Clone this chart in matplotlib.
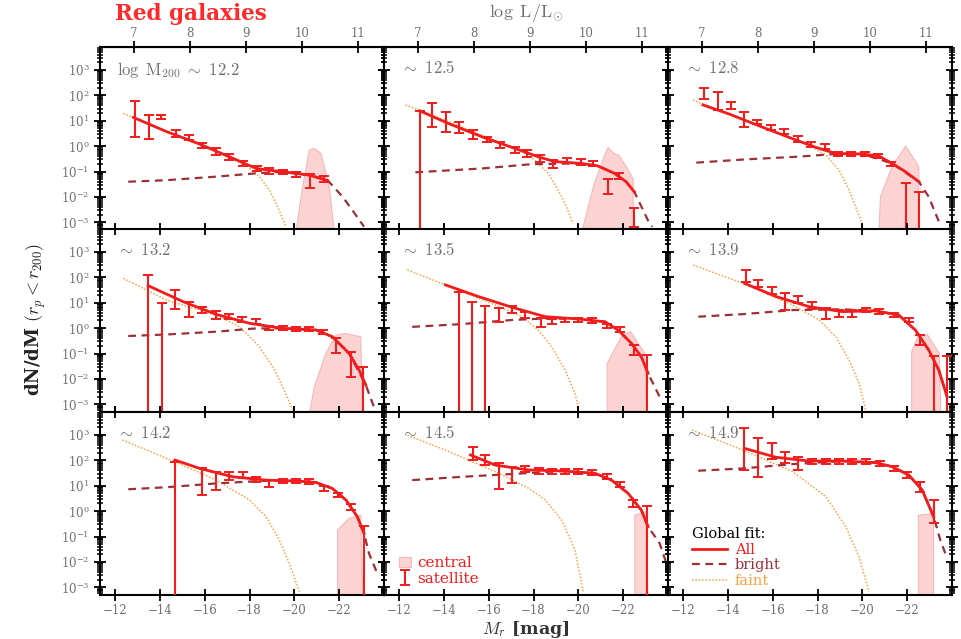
import numpy as np
import matplotlib.pyplot as plt
from matplotlib.ticker import NullFormatter, FixedLocator

plt.rcParams['font.family'] = 'DejaVu Serif'
plt.rcParams['mathtext.fontset'] = 'cm'

# halo mass bins (log M200)
halo_mass = ['12.2', '12.5', '12.8', '13.2', '13.5', '13.9', '14.2', '14.5', '14.9']

# satellite luminosity function: magnitude, log value, log lower / upper end of the error bar
sat_mag = [
    [-12.89, -13.52, -14.07, -14.70, -15.30, -15.86, -16.52, -17.08, -17.70, -18.33, -18.89, -19.48, -20.07, -20.70, -21.33],
    [-12.92, -13.47, -14.10, -14.69, -15.28, -15.92, -16.51, -17.18, -17.70, -18.30, -18.87, -19.50, -20.10, -20.65, -21.33, -21.80, -22.50],
    [-12.92, -13.56, -14.15, -14.71, -15.30, -15.93, -16.52, -17.11, -17.70, -18.32, -18.92, -19.51, -20.10, -20.71, -21.30, -21.97, -22.52],
    [-13.48, -14.10, -14.67, -15.30, -15.89, -16.50, -17.08, -17.67, -18.30, -18.86, -19.48, -20.07, -20.67, -21.26, -21.85, -22.52, -23.07],
    [-14.67, -15.27, -15.84, -16.44, -17.04, -17.63, -18.33, -18.81, -19.41, -20.00, -20.59, -21.29, -21.88, -22.49, -23.08],
    [-14.79, -15.33, -15.97, -16.56, -17.15, -17.75, -18.37, -18.96, -19.53, -20.15, -20.74, -21.41, -22.07, -22.59, -23.19, -23.78],
    [-14.67, -15.89, -16.50, -17.08, -17.70, -18.30, -18.89, -19.48, -20.07, -20.67, -21.33, -21.93, -22.52, -23.11],
    [-15.30, -15.85, -16.44, -17.04, -17.63, -18.26, -18.81, -19.41, -20.00, -20.59, -21.29, -21.88, -22.44, -23.08],
    [-14.74, -15.33, -15.99, -16.55, -17.14, -17.74, -18.37, -18.96, -19.55, -20.15, -20.81, -21.41, -22.00, -22.59, -23.18],
]
sat_logn = [
    [1.09, 0.79, 1.16, 0.50, 0.33, 0.02, -0.22, -0.42, -0.68, -0.88, -0.97, -1.01, -1.10, -1.40, -1.30],
    [1.30, 1.22, 0.96, 0.74, 0.47, 0.28, 0.04, -0.16, -0.29, -0.48, -0.71, -0.58, -0.61, -0.68, -1.60, -1.20, -2.78],
    [2.08, 1.88, 1.62, 1.07, 0.96, 0.74, 0.57, 0.28, 0.08, 0.00, -0.31, -0.31, -0.31, -0.39, -0.71, -1.60, -1.90],
    [1.60, 0.85, 1.10, 0.78, 0.71, 0.51, 0.45, 0.34, 0.25, 0.01, -0.01, -0.04, -0.05, -0.14, -0.73, -1.13, -1.62],
    [1.20, 0.90, 0.75, 0.51, 0.74, 0.51, 0.21, 0.25, 0.32, 0.32, 0.29, 0.08, -0.05, -0.86, -1.20],
    [2.09, 1.76, 1.50, 1.17, 1.13, 0.91, 0.58, 0.58, 0.58, 0.71, 0.65, 0.51, 0.32, -0.47, -1.20, -1.20],
    [1.90, 1.22, 1.22, 1.35, 1.42, 1.25, 1.09, 1.18, 1.18, 1.16, 0.89, 0.63, 0.17, -0.68],
    [2.27, 2.01, 1.42, 1.46, 1.66, 1.58, 1.55, 1.55, 1.55, 1.51, 1.35, 1.03, 0.30, 0.00],
    [2.40, 2.08, 2.27, 2.08, 1.94, 1.94, 1.97, 1.97, 1.94, 1.94, 1.88, 1.68, 1.42, 0.96, 0.04],
]
sat_lo = [
    [0.37, 0.30, 1.08, 0.37, 0.24, -0.09, -0.35, -0.53, -0.80, -0.99, -1.08, -1.10, -1.20, -1.66, -1.42],
    [-9, 0.74, 0.57, 0.50, 0.30, 0.18, -0.09, -0.29, -0.42, -0.61, -0.88, -0.68, -0.74, -0.78, -1.89, -1.30, -3.20],
    [1.84, 1.42, 1.48, 0.74, 0.86, 0.65, 0.47, 0.18, -0.02, -0.10, -0.38, -0.38, -0.38, -0.46, -0.80, -9, -9],
    [-9, -9, 0.74, 0.45, 0.58, 0.34, 0.36, 0.25, 0.16, -0.07, -0.09, -0.12, -0.13, -0.22, -0.99, -1.91, -9],
    [-9, -9, -9, 0.25, 0.61, 0.38, 0.04, 0.16, 0.23, 0.23, 0.20, -0.01, -0.14, -1.06, -9],
    [1.83, 1.63, 1.36, 0.71, 1.00, 0.74, 0.37, 0.45, 0.45, 0.62, 0.56, 0.42, 0.23, -0.66, -9, -9],
    [-9, 0.63, 0.83, 1.22, 1.29, 1.16, 0.94, 1.09, 1.09, 1.07, 0.80, 0.54, 0.04, -9],
    [2.01, 1.81, 0.89, 1.10, 1.53, 1.45, 1.45, 1.45, 1.45, 1.41, 1.25, 0.93, 0.17, -9],
    [1.62, 1.35, 2.04, 1.88, 1.62, 1.84, 1.87, 1.87, 1.84, 1.84, 1.78, 1.58, 1.32, 0.76, -0.48],
]
sat_hi = [
    [1.79, 1.22, 1.24, 0.63, 0.43, 0.13, -0.09, -0.32, -0.57, -0.77, -0.87, -0.92, -1.01, -1.10, -1.18],
    [1.39, 1.68, 1.35, 0.96, 0.63, 0.37, 0.17, -0.03, -0.16, -0.35, -0.55, -0.48, -0.51, -0.58, -1.31, -1.07, -2.45],
    [2.27, 2.14, 1.75, 1.35, 1.03, 0.83, 0.67, 0.38, 0.18, 0.10, -0.24, -0.24, -0.24, -0.32, -0.62, -1.47, -1.80],
    [2.09, 0.97, 1.50, 1.04, 0.84, 0.68, 0.55, 0.44, 0.34, 0.09, 0.07, 0.04, 0.03, -0.06, -0.40, -0.93, -1.52],
    [1.43, 1.04, 0.87, 0.78, 0.87, 0.64, 0.38, 0.34, 0.41, 0.41, 0.38, 0.17, 0.04, -0.66, -1.06],
    [2.29, 1.89, 1.63, 1.37, 1.26, 1.04, 0.78, 0.71, 0.71, 0.80, 0.74, 0.60, 0.41, -0.27, -1.10, -1.10],
    [1.94, 1.68, 1.55, 1.55, 1.55, 1.35, 1.22, 1.27, 1.27, 1.25, 0.98, 0.72, 0.30, -0.59],
    [2.54, 2.21, 1.88, 1.75, 1.79, 1.71, 1.65, 1.65, 1.65, 1.61, 1.45, 1.13, 0.43, 0.20],
    [3.26, 2.86, 2.67, 2.34, 2.14, 2.04, 2.07, 2.07, 2.04, 2.04, 1.98, 1.78, 1.52, 1.16, 0.43],
]

# global fit: total, bright and faint components (log values)
all_mag = [
    [-12.82, -14.30, -15.78, -17.26, -18.30, -19.48, -20.67, -21.48],
    [-12.92, -14.21, -15.69, -17.17, -18.21, -18.95, -20.13, -20.87, -21.61, -22.13, -22.50],
    [-12.89, -14.07, -15.56, -17.04, -17.93, -18.81, -20.00, -20.74, -21.33, -21.93, -22.52],
    [-13.48, -15.04, -16.52, -18.00, -19.48, -20.96, -21.70, -22.44, -22.89, -23.19],
    [-14.07, -15.55, -17.04, -18.52, -20.00, -21.19, -21.78, -22.37, -22.81, -23.11],
    [-14.75, -16.16, -17.64, -19.12, -20.60, -21.63, -22.37, -22.96, -23.41, -23.78],
    [-14.67, -15.78, -17.26, -18.74, -20.22, -20.96, -21.70, -22.30, -22.81, -23.11],
    [-15.19, -16.30, -17.78, -19.26, -20.74, -21.48, -22.22, -22.81, -23.11],
    [-14.74, -16.14, -17.62, -19.10, -20.58, -21.33, -22.07, -22.67, -23.18],
]
all_logn = [
    [1.13, 0.57, 0.08, -0.48, -0.88, -1.01, -1.14, -1.36],
    [1.39, 0.89, 0.37, -0.09, -0.42, -0.61, -0.68, -0.78, -1.07, -1.40, -1.80],
    [1.62, 1.26, 0.74, 0.24, -0.05, -0.29, -0.31, -0.39, -0.68, -1.01, -1.40],
    [1.67, 1.04, 0.54, 0.19, -0.01, -0.07, -0.34, -0.99, -1.65, -2.24],
    [1.70, 1.24, 0.82, 0.45, 0.36, 0.25, -0.08, -0.60, -1.13, -1.78],
    [1.76, 1.24, 0.84, 0.65, 0.68, 0.51, -0.08, -0.86, -1.65, -2.70],
    [2.01, 1.68, 1.35, 1.22, 1.18, 1.13, 0.89, 0.44, -0.22, -0.88],
    [2.21, 1.81, 1.62, 1.58, 1.49, 1.22, 0.70, 0.04, -0.61],
    [2.47, 2.12, 1.97, 1.97, 1.91, 1.75, 1.42, 0.83, -0.22],
]
bright_mag = [
    [-12.59, -14.30, -16.52, -18.30, -19.48, -20.67, -21.48, -22.15, -22.59, -23.11],
    [-12.73, -15.69, -17.91, -20.13, -20.87, -21.61, -22.13, -22.50, -23.10, -23.30],
    [-12.59, -14.81, -17.04, -18.81, -20.00, -21.33, -22.52, -22.96, -23.48],
    [-12.59, -14.30, -16.52, -18.30, -19.48, -20.96, -21.70, -22.44, -23.19, -23.63],
    [-12.59, -14.81, -17.04, -18.52, -20.00, -21.19, -21.78, -22.37, -22.81, -23.11, -23.70],
    [-12.68, -14.68, -16.90, -19.12, -20.60, -21.63, -22.37, -22.96, -23.41, -23.78],
    [-12.59, -14.30, -16.52, -18.74, -20.22, -20.96, -21.70, -22.30, -22.81, -23.11, -23.33, -23.70],
    [-12.59, -14.81, -17.04, -19.26, -20.74, -21.48, -22.22, -22.81, -23.11, -23.63, -23.93],
    [-12.68, -14.68, -16.90, -19.10, -20.58, -21.33, -22.07, -22.67, -23.18, -23.48, -23.70],
]
bright_logn = [
    [-1.40, -1.34, -1.20, -1.07, -1.01, -1.14, -1.34, -1.99, -2.52, -3.17],
    [-1.03, -0.88, -0.71, -0.68, -0.78, -1.07, -1.40, -1.80, -2.91, -3.17],
    [-0.65, -0.52, -0.42, -0.31, -0.31, -0.68, -1.40, -1.99, -3.11],
    [-0.31, -0.25, -0.14, -0.01, -0.01, -0.07, -0.34, -0.99, -2.24, -3.29],
    [0.05, 0.16, 0.32, 0.38, 0.36, 0.25, -0.08, -0.60, -1.13, -1.78, -2.83],
    [0.45, 0.55, 0.71, 0.74, 0.68, 0.51, -0.08, -0.86, -1.65, -2.70],
    [0.86, 0.94, 1.09, 1.20, 1.18, 1.13, 0.89, 0.44, -0.22, -0.88, -1.66, -2.45],
    [1.22, 1.35, 1.46, 1.58, 1.49, 1.22, 0.70, 0.04, -0.61, -1.27, -2.06],
    [1.59, 1.68, 1.85, 1.97, 1.91, 1.75, 1.42, 0.83, -0.22, -1.14, -1.66],
]
faint_mag = [
    [-12.37, -14.30, -16.52, -17.85, -18.44, -18.89, -19.26, -19.63],
    [-12.29, -13.47, -14.95, -16.43, -17.47, -18.06, -18.65, -19.10, -19.47, -19.76],
    [-12.44, -14.07, -15.56, -17.04, -17.78, -18.37, -18.96, -19.41, -19.70, -20.00],
    [-12.37, -14.30, -16.52, -17.56, -18.44, -19.04, -19.48, -19.93],
    [-12.37, -14.07, -16.29, -17.48, -18.22, -18.81, -19.41, -19.85, -20.00],
    [-12.46, -14.68, -16.90, -18.08, -18.82, -19.41, -19.86, -20.15],
    [-12.33, -14.67, -16.52, -18.00, -18.74, -19.33, -19.78, -20.22],
    [-12.37, -14.07, -16.30, -17.78, -18.52, -19.26, -19.85, -20.22],
    [-12.40, -14.68, -16.90, -18.37, -19.26, -19.85, -20.30],
]
faint_logn = [
    [1.29, 0.57, -0.22, -0.75, -1.20, -1.73, -2.39, -3.17],
    [1.62, 1.22, 0.70, 0.17, -0.22, -0.55, -1.07, -1.73, -2.39, -3.04],
    [1.81, 1.26, 0.74, 0.24, -0.05, -0.35, -0.94, -1.73, -2.39, -3.04],
    [1.96, 1.10, 0.51, 0.05, -0.73, -1.52, -2.31, -3.22],
    [2.29, 1.70, 0.91, 0.45, -0.08, -0.73, -1.65, -2.57, -3.10],
    [2.48, 1.76, 0.91, 0.32, -0.34, -1.26, -2.18, -3.23],
    [2.80, 1.94, 1.22, 0.44, -0.22, -1.14, -2.06, -3.17],
    [2.99, 2.40, 1.55, 0.90, 0.44, -0.35, -1.53, -3.17],
    [3.19, 2.40, 1.55, 0.57, -0.61, -1.79, -3.17],
]

# central galaxies: outline of the shaded region
cen_mag = [
    [-20.07, -20.37, -20.67, -20.89, -21.19, -21.56, -21.78],
    [-20.15, -20.70, -21.20, -21.33, -21.60, -21.80, -22.20, -22.45, -22.45],
    [-20.74, -20.81, -21.33, -21.93, -22.52, -22.52],
    [-20.67, -20.89, -21.41, -21.85, -22.30, -22.96, -23.05],
    [-21.29, -21.29, -21.96, -22.33, -22.96, -23.05],
    [-22.20, -22.20, -22.47, -22.91, -23.43, -23.50],
    [-21.93, -21.93, -22.44, -22.96, -23.05],
    [-22.52, -22.52, -23.04, -23.10],
    [-22.50, -22.50, -23.18, -23.18],
]
cen_logn = [
    [-3.4, -1.60, -0.15, -0.09, -0.29, -1.60, -3.4],
    [-3.4, -1.50, -0.30, -0.05, -0.30, -0.35, -0.90, -1.30, -3.4],
    [-3.4, -1.99, -0.81, 0.00, -0.81, -3.4],
    [-3.4, -2.31, -0.99, -0.27, -0.21, -0.34, -3.4],
    [-3.4, -1.39, -0.27, -0.14, -0.99, -3.4],
    [-3.4, -0.93, -0.34, -0.27, -0.99, -3.4],
    [-3.4, -0.75, -0.29, -0.16, -3.4],
    [-3.4, -0.16, -0.02, -3.4],
    [-3.4, -0.16, -0.09, -3.4],
]

red = '#f21c1c'
dark = '#9c3038'
orange = '#ffa040'
pink = '#fbd3d3'
grey = '#707070'

major_y = [1e-3, 1e-2, 1e-1, 1e0, 1e1, 1e2, 1e3]
minor_y = [m * 10.0 ** e for e in range(-4, 4) for m in range(2, 10)
           if 10 ** -3.3 < m * 10.0 ** e < 10 ** 3.9]

fig = plt.figure(figsize=(9.62, 6.39), dpi=100)
lefts = [100, 384, 668]
tops = [47, 229, 412]

for i in range(9):
    r, c = divmod(i, 3)
    ax = fig.add_axes([lefts[c] / 962, 1 - (tops[r] + 183) / 639, 284 / 962, 183 / 639])
    ax.set_yscale('log')

    poly = ax.fill(cen_mag[i], 10.0 ** np.array(cen_logn[i]), facecolor=pink,
                   edgecolor='#f6b8b8', lw=0.8, zorder=1)[0]
    lf, = ax.plot(faint_mag[i], 10.0 ** np.array(faint_logn[i]), ls=(0, (1, 1.2)),
                  color=orange, lw=1.1, zorder=2)
    lb, = ax.plot(bright_mag[i], 10.0 ** np.array(bright_logn[i]), ls=(0, (3.5, 2.5)),
                  color=dark, lw=1.6, zorder=3)
    la, = ax.plot(all_mag[i], 10.0 ** np.array(all_logn[i]), color=red, lw=2.0, zorder=4)

    y = 10.0 ** np.array(sat_logn[i])
    lo = 10.0 ** np.array(sat_lo[i])
    hi = 10.0 ** np.array(sat_hi[i])
    eb = ax.errorbar(sat_mag[i], y, yerr=[y - lo, hi - y], fmt='none', ecolor=red,
                     elinewidth=1.5, capsize=3.5, capthick=1.4, zorder=5)

    ax.set_xlim(-11.33, -24.0)
    ax.set_ylim(10 ** -3.3, 10 ** 3.9)

    ax.xaxis.set_major_locator(FixedLocator([-12, -14, -16, -18, -20, -22]))
    ax.yaxis.set_major_locator(FixedLocator(major_y))
    ax.yaxis.set_minor_locator(FixedLocator(minor_y))
    ax.yaxis.set_minor_formatter(NullFormatter())
    ax.tick_params(which='both', direction='inout', top=(r != 0), right=True,
                   labelsize=8.5, labelcolor=grey)
    ax.tick_params(which='major', length=8, width=1.3)
    ax.tick_params(which='minor', length=5, width=1.1)
    ax.tick_params(axis='x', pad=2.5)
    for s in ax.spines.values():
        s.set_linewidth(1.5)

    if c != 0:
        ax.tick_params(labelleft=False)
    if r != 2:
        ax.tick_params(labelbottom=False)

    if i == 0:
        label = r'$\log\ \mathrm{M}_{200}\ \sim\ 12.2$'
    else:
        label = r'$\sim\ ' + halo_mass[i] + '$'
    ax.text(0.06, 0.93, label, transform=ax.transAxes, color=grey, fontsize=12,
            va='top', ha='left')

    if r == 0:
        sec = ax.secondary_xaxis('top', functions=(lambda m: (4.66 - m) / 2.5,
                                                   lambda l: 4.66 - 2.5 * l))
        sec.set_xticks([7, 8, 9, 10, 11])
        sec.set_xticklabels(['7', '8', '9', '10', '11'])
        sec.tick_params(direction='inout', length=8, width=1.3, labelsize=8.5,
                        labelcolor=grey, pad=1)

    if i == 7:
        ax.legend([poly, eb], ['central', 'satellite'], loc='lower left',
                  bbox_to_anchor=(0.02, 0.0), frameon=False, fontsize=11,
                  labelcolor=red, handlelength=0.8, handletextpad=0.4,
                  borderaxespad=0.2, labelspacing=0.1)
    if i == 8:
        ax.legend([la, lb, lf], ['All', 'bright', 'faint'], loc='lower left',
                  bbox_to_anchor=(0.06, 0.0), frameon=False, fontsize=10.5,
                  labelcolor='linecolor', title='Global fit:', title_fontsize=10.5,
                  alignment='left', handlelength=2.4, handletextpad=0.5,
                  borderaxespad=0.2, labelspacing=0.1, borderpad=0.3)

fig.text(115 / 962, 1 - 14 / 639, 'Red galaxies', color='#ff2a2a', fontsize=15.5,
         fontweight='bold', va='center', ha='left')
fig.text(526 / 962, 1 - 13 / 639, r'$\log\ \mathrm{L}/\mathrm{L}_{\odot}$', color=grey,
         fontsize=13, va='center', ha='center')
fig.text(36 / 962, 0.5, r'dN/dM $(r_p < r_{200})$', rotation=90, fontsize=13,
         fontweight='bold', va='center', ha='center', color='#222222')
fig.text(526 / 962, 1 - 629 / 639, r'$M_r$ [mag]', fontsize=12.5, fontweight='bold',
         va='center', ha='center', color='#333333')

plt.savefig('out.png', dpi=100)
